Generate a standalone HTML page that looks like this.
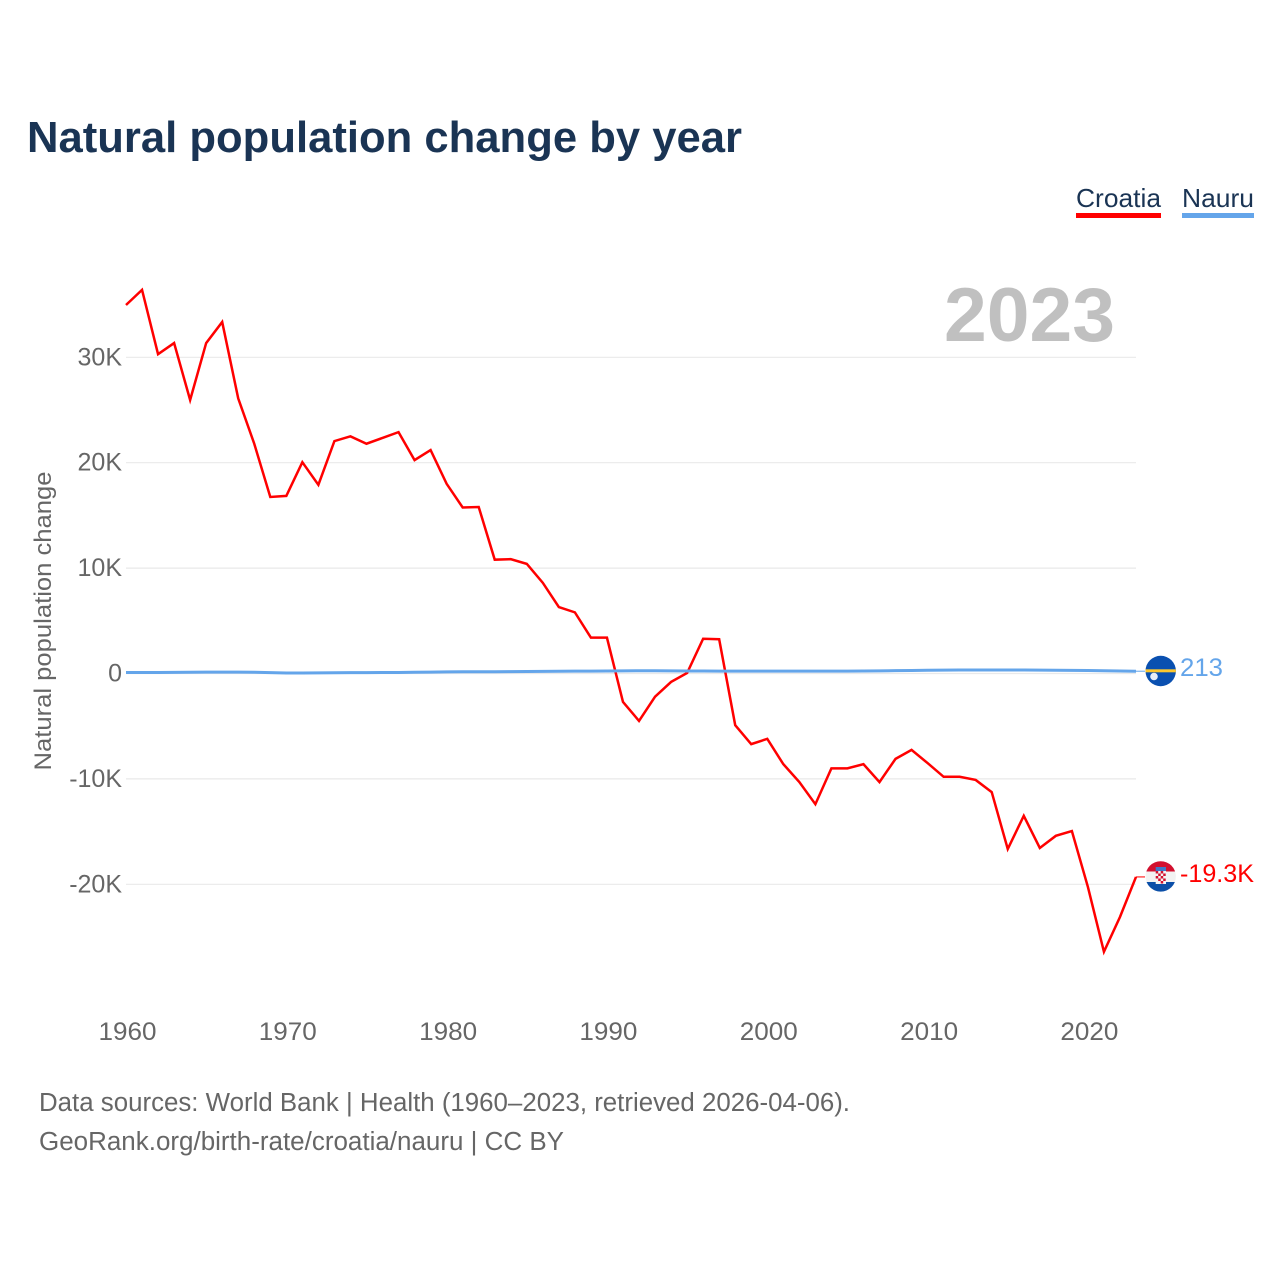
<!DOCTYPE html>
<html lang="en">
<head>
<meta charset="utf-8">
<title>Natural population change by year</title>
<style>
html,body{margin:0;padding:0;background:#fff;width:1280px;height:1280px;overflow:hidden}
svg{display:block;font-family:"Liberation Sans",sans-serif}
</style>
</head>
<body>
<svg id="chart" width="1280" height="1280" viewBox="0 0 1280 1280" xmlns="http://www.w3.org/2000/svg">
  <defs>
    <clipPath id="clip-nauru"><circle cx="1160.7" cy="671" r="15.2"/></clipPath>
    <clipPath id="clip-croatia"><circle cx="1160.7" cy="876.4" r="15.2"/></clipPath>
  </defs>
  <rect width="1280" height="1280" fill="#fff"/>
  <text x="27" y="152" font-size="44" font-weight="700" fill="#1a3454" textLength="715" lengthAdjust="spacingAndGlyphs">Natural population change by year</text>

  <g>
    <g>
      <text x="1076" y="207" font-size="26" fill="#1a3454" textLength="85" lengthAdjust="spacingAndGlyphs">Croatia</text>
      <rect x="1076" y="213" width="85" height="5" fill="#ff0000"/>
    </g>
    <g>
      <text x="1182" y="207" font-size="26" fill="#1a3454" textLength="72" lengthAdjust="spacingAndGlyphs">Nauru</text>
      <rect x="1182" y="213" width="72" height="5" fill="#64a5ea"/>
    </g>
  </g>

  <g id="grid"></g>
  <g id="y-ticks"></g>
  <g id="x-ticks"></g>

  <text transform="translate(51,621) rotate(-90)" text-anchor="middle" font-size="24.5" fill="#666" textLength="299" lengthAdjust="spacingAndGlyphs">Natural population change</text>
  <text x="944" y="341" font-size="76" font-weight="700" fill="#c0c0c0" textLength="171" lengthAdjust="spacingAndGlyphs">2023</text>

  <g id="series"></g>

  <g clip-path="url(#clip-nauru)">
    <rect x="1145" y="655" width="32" height="32" fill="#0a50b0"/>
    <rect x="1145" y="669.3" width="32" height="3" fill="#fcc72e"/>
    <circle cx="1154" cy="676.5" r="3.8" fill="#e8eef6"/>
  </g>
  <g clip-path="url(#clip-croatia)">
    <rect x="1145" y="861" width="32" height="10.5" fill="#d2102f"/>
    <rect x="1145" y="871.5" width="32" height="10.5" fill="#f2f2f2"/>
    <rect x="1145" y="882" width="32" height="10" fill="#0b4fa8"/>
    <rect x="1155.7" y="867" width="10.3" height="4" fill="#3f78c8"/>
    <rect x="1155.7" y="871" width="10.3" height="13" fill="#f4f4f4"/>
    <path d="M1155.7 871h2.5v2.5h-2.5zM1160.7 871h2.5v2.5h-2.5zM1158.2 873.5h2.5v2.5h-2.5zM1163.2 873.5h2.5v2.5h-2.5zM1155.7 876h2.5v2.5h-2.5zM1160.7 876h2.5v2.5h-2.5zM1158.2 878.5h2.5v2.5h-2.5zM1163.2 878.5h2.5v2.5h-2.5zM1160.7 881h2.5v2.5h-2.5z" fill="#d2102f"/>
  </g>

  <text x="1180" y="676" font-size="25" fill="#64a5ea" textLength="43" lengthAdjust="spacingAndGlyphs">213</text>
  <text x="1180" y="882" font-size="25" fill="#ff0000" textLength="74" lengthAdjust="spacingAndGlyphs">-19.3K</text>

  <text x="39" y="1111" font-size="25.5" fill="#666" textLength="811" lengthAdjust="spacingAndGlyphs">Data sources: World Bank | Health (1960–2023, retrieved 2026-04-06).</text>
  <a><text x="39" y="1150" font-size="25.5" fill="#666" textLength="525" lengthAdjust="spacingAndGlyphs">GeoRank.org/birth-rate/croatia/nauru | CC BY</text></a>
</svg>

<script>
const firstYear = 1960;
const xTickYears = [1960, 1970, 1980, 1990, 2000, 2010, 2020];
const yTickValues = [30, 20, 10, 0, -10, -20];
const yTickLabels = ["30K", "20K", "10K", "0", "-10K", "-20K"];
const croatiaValues = [34.96, 36.4, 30.3, 31.35, 25.95, 31.35, 33.35, 26.1, 21.8, 16.75,
  16.85, 20.05, 17.9, 22.05, 22.5, 21.8, 22.35, 22.9, 20.25, 21.2,
  18.0, 15.75, 15.8, 10.8, 10.85, 10.4, 8.6, 6.3, 5.8, 3.4,
  3.4, -2.7, -4.5, -2.2, -0.8, 0.05, 3.3, 3.25, -4.9, -6.7,
  -6.2, -8.6, -10.3, -12.4, -9.0, -9.0, -8.6, -10.3, -8.1, -7.25,
  -8.5, -9.8, -9.8, -10.1, -11.25, -16.65, -13.5, -16.55, -15.4, -14.95,
  -20.25, -26.4, -23.1, -19.3];
const nauruValues = [0.1, 0.1, 0.1, 0.11, 0.12, 0.13, 0.13, 0.13, 0.12, 0.08,
  0.05, 0.05, 0.06, 0.07, 0.08, 0.08, 0.09, 0.1, 0.12, 0.13,
  0.15, 0.16, 0.17, 0.17, 0.18, 0.19, 0.2, 0.21, 0.22, 0.23,
  0.24, 0.25, 0.26, 0.26, 0.25, 0.24, 0.24, 0.23, 0.23, 0.23,
  0.23, 0.23, 0.22, 0.22, 0.22, 0.23, 0.24, 0.25, 0.27, 0.29,
  0.31, 0.32, 0.33, 0.33, 0.33, 0.33, 0.33, 0.32, 0.31, 0.3,
  0.28, 0.26, 0.24, 0.213];

const NS = "http://www.w3.org/2000/svg";
function xScale(year) { return 126 + (year - firstYear) * (1136 - 126) / 63; }
function yScale(k) { return 673.5 - k * 10.54; }
function make(tag, attrs, parent) {
  const el = document.createElementNS(NS, tag);
  for (const key in attrs) el.setAttribute(key, attrs[key]);
  parent.appendChild(el);
  return el;
}

const grid = document.getElementById("grid");
const yTicks = document.getElementById("y-ticks");
const xTicks = document.getElementById("x-ticks");
const series = document.getElementById("series");

yTickValues.forEach(function (value, i) {
  const line = make("line", { x1: 126, x2: 1136, y1: yScale(value), y2: yScale(value), stroke: "#e9e9e9", "stroke-width": 1.2 }, grid);
  
  
  const label = make("text", { x: 122, y: yScale(value) + 8, "text-anchor": "end", "font-size": 25, fill: "#666" }, yTicks);
  
  
  label.textContent = yTickLabels[i];
});

xTickYears.forEach(function (year) {
  const label = make("text", { x: xScale(year) + 1.5, y: 1040, "text-anchor": "middle", "font-size": 25, fill: "#666", textLength: 58, lengthAdjust: "spacingAndGlyphs" }, xTicks);
  
  
  label.textContent = year;
});

function toPoints(values) {
  return values.map(function (v, i) { return xScale(firstYear + i).toFixed(2) + "," + yScale(v).toFixed(2); }).join(" ");
}
function drawSeries(values, color, name, width) {
  const last = values[values.length - 1];
  const endX = xScale(firstYear + values.length - 1);
  const connector = make("line", { x1: endX, x2: endX + 9, y1: yScale(last), y2: yScale(last), stroke: color, "stroke-width": 1.2, opacity: 0.85 }, series);
  
  
  const line = make("polyline", { points: toPoints(values), fill: "none", stroke: color, "stroke-width": width, "stroke-linejoin": "miter" }, series);
  
  
}
drawSeries(croatiaValues, "#ff0000", "series-line-croatia", 2.5);
drawSeries(nauruValues, "#64a5ea", "series-line-nauru", 3);
</script>
</body>
</html>
